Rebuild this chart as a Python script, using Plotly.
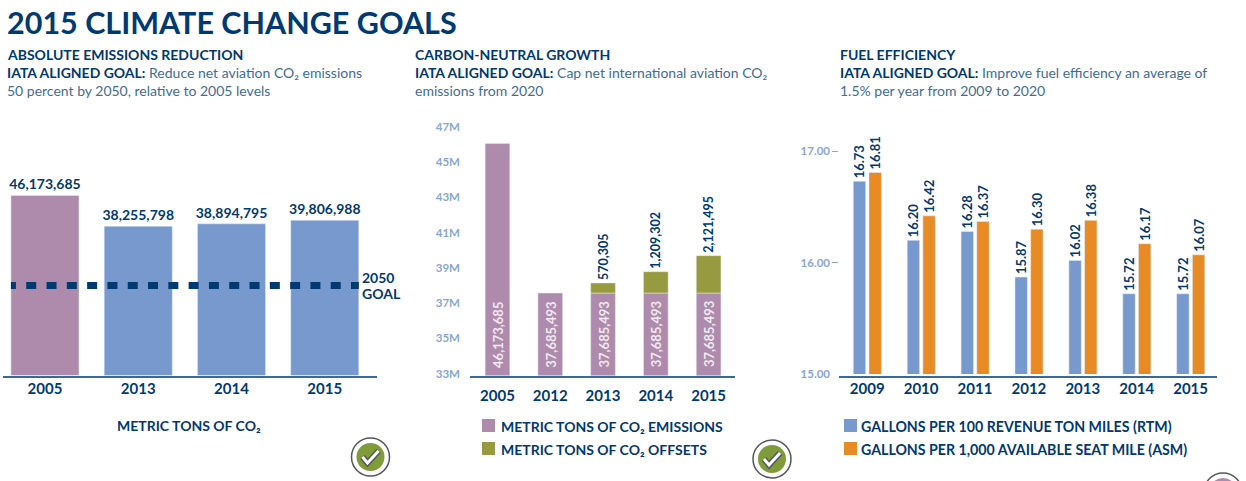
import plotly.graph_objects as go

W, H = 1246, 481

# left panel
abs_years = ["2005", "2013", "2014", "2015"]
abs_values = [46173685, 38255798, 38894795, 39806988]
abs_colors = ["#ae8bad", "#7899cd", "#7899cd", "#7899cd"]
goal_2050 = 23086842

# middle panel
cn_years = ["2005", "2012", "2013", "2014", "2015"]
cn_emissions = [46173685, 37685493, 37685493, 37685493, 37685493]
cn_offsets = [None, None, 570305, 1209302, 2121495]
cn_ticks = [33e6, 35e6, 37e6, 39e6, 41e6, 43e6, 45e6, 47e6]
cn_ticktext = ["33M", "35M", "37M", "39M", "41M", "43M", "45M", "47M"]

# right panel
fe_years = ["2009", "2010", "2011", "2012", "2013", "2014", "2015"]
fe_rtm = [16.73, 16.20, 16.28, 15.87, 16.02, 15.72, 15.72]
fe_asm = [16.81, 16.42, 16.37, 16.30, 16.38, 16.17, 16.07]
fe_ticks = [15, 16, 17]

NAVY = "#003a70"
BODY = "#3f6d97"
TICK = "#8aa6d4"
AXIS = "#3b6a99"
PURPLE = "#ae8bad"
BLUE = "#7899cd"
OLIVE = "#979a3e"
ORANGE = "#e98b25"
FONT = "Lato"


def xdom(a, b):
    return [a / W, b / W]


def ydom(top, bottom):
    return [1 - bottom / H, 1 - top / H]


fig = go.Figure()

# absolute emissions
fig.add_trace(go.Bar(
    x=abs_years, y=abs_values, marker_color=abs_colors, width=0.73,
    text=[f"{v:,}" for v in abs_values], textposition="outside", textangle=0,
    textfont=dict(family=FONT, size=14, color=NAVY, weight="bold"),
    constraintext="none", cliponaxis=False, xaxis="x", yaxis="y",
))

# carbon neutral growth
fig.add_trace(go.Bar(
    x=cn_years, y=cn_emissions, marker_color=PURPLE, width=0.468,
    xaxis="x2", yaxis="y2",
))
fig.add_trace(go.Bar(
    x=cn_years[2:], y=cn_offsets[2:], base=cn_emissions[2:], marker_color=OLIVE, width=0.468,
    text=[f"{v:,}" for v in cn_offsets[2:]], textposition="outside", textangle=-90,
    textfont=dict(family=FONT, size=12.5, color=NAVY, weight="bold"),
    constraintext="none", cliponaxis=False, xaxis="x2", yaxis="y2",
))

# fuel efficiency
fig.add_trace(go.Bar(
    x=fe_years, y=fe_rtm, marker_color=BLUE, width=0.23, offset=-0.258,
    text=[f"{v:.2f}" for v in fe_rtm], textposition="outside", textangle=-90,
    textfont=dict(family=FONT, size=13, color=NAVY, weight="bold"),
    constraintext="none", cliponaxis=False, xaxis="x3", yaxis="y3",
))
fig.add_trace(go.Bar(
    x=fe_years, y=fe_asm, marker_color=ORANGE, width=0.23, offset=0.033,
    text=[f"{v:.2f}" for v in fe_asm], textposition="outside", textangle=-90,
    textfont=dict(family=FONT, size=13, color=NAVY, weight="bold"),
    constraintext="none", cliponaxis=False, xaxis="x3", yaxis="y3",
))

annotations = []


def label(px, py, text, size, color=NAVY, anchor="left", bold=False):
    annotations.append(dict(
        x=px / W, y=1 - py / H, xref="paper", yref="paper", text=f"<b>{text}</b>" if bold else text,
        showarrow=False, xanchor=anchor, yanchor="middle", borderpad=0,
        font=dict(family=FONT, size=size, color=color),
    ))


label(6, 22.5, "2015 CLIMATE CHANGE GOALS", 30.5, bold=True)

label(6, 54, "ABSOLUTE EMISSIONS REDUCTION", 14, bold=True)
label(6, 72, f"<b style='color:{NAVY}'>IATA ALIGNED GOAL:</b> Reduce net aviation CO₂ emissions", 14, BODY)
label(6, 90, "50 percent by 2050, relative to 2005 levels", 14, BODY)

label(414, 54, "CARBON-NEUTRAL GROWTH", 14, bold=True)
label(414, 72, f"<b style='color:{NAVY}'>IATA ALIGNED GOAL:</b> Cap net international aviation CO₂", 14, BODY)
label(414, 90, "emissions from 2020", 14, BODY)

label(839, 54, "FUEL EFFICIENCY", 14, bold=True)
label(839, 72, f"<b style='color:{NAVY}'>IATA ALIGNED GOAL:</b> Improve fuel efficiency an average of", 14, BODY)
label(839, 90, "1.5% per year from 2009 to 2020", 14, BODY)

label(361, 277, "2050", 14, bold=True)
label(361, 293.5, "GOAL", 14, bold=True)
label(189, 425, "METRIC TONS OF CO₂", 14, anchor="center", bold=True)

label(500, 426, "METRIC TONS OF CO₂ EMISSIONS", 14, bold=True)
label(500, 449, "METRIC TONS OF CO₂ OFFSETS", 14, bold=True)
label(860, 426, "GALLONS PER 100 REVENUE TON MILES (RTM)", 14.2, bold=True)
label(860, 449, "GALLONS PER 1,000 AVAILABLE SEAT MILE (ASM)", 14.2, bold=True)

# labels inside the emissions bars, sitting near the base
for i, v in enumerate(cn_emissions):
    annotations.append(dict(
        x=i, y=33e6, xref="x2", yref="y2", text=f"{v:,}", textangle=-90, showarrow=False,
        yanchor="bottom", yshift=7, borderpad=0,
        font=dict(family=FONT, size=13, color="#f1e9f0", weight="bold"),
    ))

shapes = []


def swatch(x0, y0, color):
    shapes.append(dict(type="rect", xref="paper", yref="paper", x0=x0 / W, x1=(x0 + 13) / W,
                       y0=1 - y0 / H, y1=1 - (y0 + 13) / H, fillcolor=color, line_width=0))


swatch(482, 419, PURPLE)
swatch(482, 442, OLIVE)
swatch(844, 419, BLUE)
swatch(844, 442, ORANGE)


def circle(cx, cy, r, fill, line="rgba(0,0,0,0)", lw=0):
    shapes.append(dict(type="circle", xref="paper", yref="paper",
                       x0=(cx - r) / W, x1=(cx + r) / W, y0=1 - (cy - r) / H, y1=1 - (cy + r) / H,
                       fillcolor=fill, line=dict(color=line, width=lw)))


def check(cx, cy):
    pts = [(-8, 0), (-3, 6), (8, -6)]
    path = "M" + "L".join(f"{(cx + dx) / W},{1 - (cy + dy) / H}" for dx, dy in pts)
    shapes.append(dict(type="path", xref="paper", yref="paper", path=path,
                       line=dict(color="#55565a", width=6)))
    shapes.append(dict(type="path", xref="paper", yref="paper", path=path,
                       line=dict(color="#ffffff", width=3)))


for cx, cy in [(370.5, 457), (772, 459)]:
    circle(cx, cy, 19, "#ffffff", "#55565a", 1.5)
    circle(cx, cy, 14, "#7f9b3a")
    check(cx, cy)

circle(1223, 492, 19, "#ffffff", "#55565a", 1.5)
circle(1223, 492, 14, PURPLE)

# 2050 goal line
dash = "5px,10.3px," + ",".join(["10px,10.3px"] * 17)
shapes.append(dict(type="line", xref="x", yref="y", x0=-0.365, x1=3.365, y0=goal_2050, y1=goal_2050,
                   line=dict(color=NAVY, width=7, dash=dash), layer="above"))

year_font = dict(family=FONT, size=15, color=NAVY, weight="bold")
tick_font = dict(family=FONT, size=11.5, color=TICK, weight="bold")

fig.update_layout(
    width=W, height=H, margin=dict(l=0, r=0, t=0, b=0, autoexpand=False),
    paper_bgcolor="white", plot_bgcolor="rgba(0,0,0,0)",
    barmode="overlay", showlegend=False, font=dict(family=FONT),
    annotations=annotations, shapes=shapes,
    xaxis=dict(domain=xdom(3, 377), range=[-0.45, 3.56], type="category", showline=True,
               linecolor=AXIS, linewidth=2, ticks="", tickfont=year_font, showgrid=False, ticklabelstandoff=-2),
    yaxis=dict(domain=ydom(141.5, 375.5), range=[0, 60e6], visible=False, showgrid=False),
    xaxis2=dict(domain=xdom(470, 735), range=[-0.52, 4.5], type="category", showline=True,
                linecolor=AXIS, linewidth=2, ticks="", tickfont=year_font, showgrid=False, ticklabelstandoff=5),
    yaxis2=dict(domain=ydom(129, 375.5), range=[33e6, 47e6], tickvals=cn_ticks, ticktext=cn_ticktext,
                tickfont=tick_font, showgrid=False, zeroline=False, ticks="", ticklabelstandoff=9,
                ticklabelshift=-2, anchor="x2"),
    xaxis3=dict(domain=xdom(839, 1216.7), range=[-0.523, 6.484], type="category", showline=True,
                linecolor=AXIS, linewidth=2, ticks="", tickfont=year_font, showgrid=False, ticklabelstandoff=-2),
    yaxis3=dict(domain=ydom(129, 374), range=[15, 17.2], tickvals=fe_ticks, ticktext=[f"{t:.2f}" for t in fe_ticks],
                tickfont=tick_font, showgrid=False, zeroline=False, ticks="", ticklabelstandoff=8,
                minor=dict(tickvals=[16, 17], ticks="outside", ticklen=6, tickcolor=TICK, tickwidth=1),
                anchor="x3"),
)

# page margin off so the figure sits at the window corner
fig.write_html("out.html", config={"displayModeBar": False}, post_script="document.body.style.margin='0';")
